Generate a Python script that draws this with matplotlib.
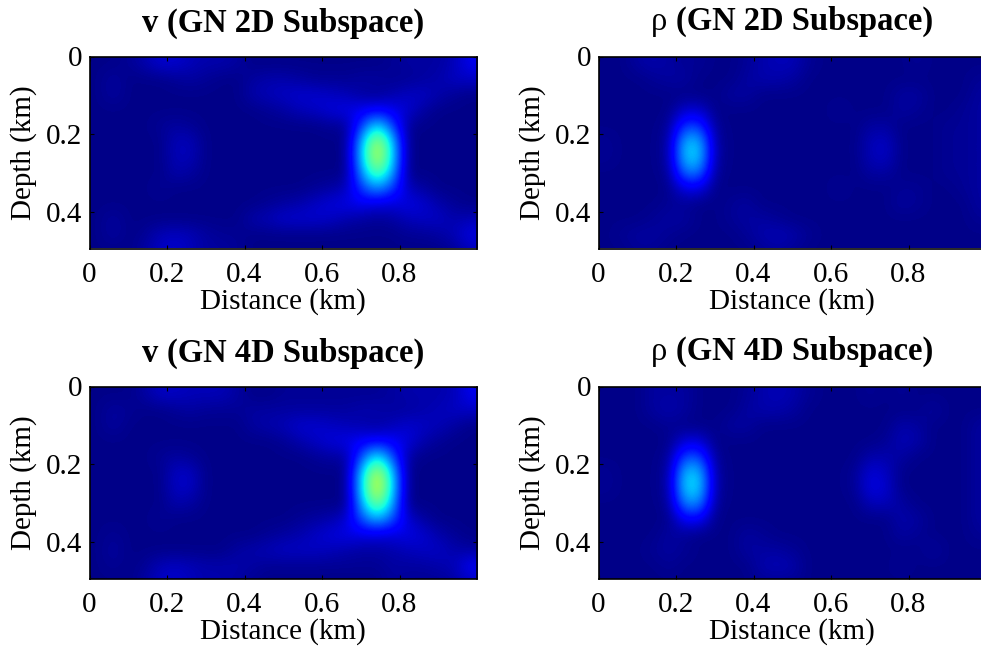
import numpy as np
import matplotlib
matplotlib.use("Agg")
import matplotlib.pyplot as plt

plt.rcParams['font.family'] = ['Liberation Serif', 'DejaVu Serif']

# Image values, in percent of the jet scale.
# Rows are depth .02 .06 ... .50 km, columns distance .02 .06 ... .98 km
v_2d = [
    [1, 1, 2, 4, 7, 7, 5, 4, 4, 3, 1, 1, 1, 1, 1, 1, 1, 1, 1, 2, 3, 3, 3, 5, 10],
    [1, 3, 1, 1, 1, 2, 3, 2, 1, 1, 3, 4, 4, 3, 2, 2, 2, 3, 3, 2, 2, 3, 4, 6, 6],
    [1, 3, 1, 1, 1, 1, 1, 1, 1, 1, 4, 5, 6, 7, 7, 6, 5, 3, 2, 4, 6, 6, 4, 2, 1],
    [1, 1, 1, 1, 1, 1, 1, 1, 1, 1, 1, 2, 3, 5, 6, 8, 9, 10, 12, 10, 7, 3, 1, 1, 1],
    [1, 1, 1, 1, 2, 3, 2, 1, 1, 1, 1, 1, 1, 1, 1, 2, 2, 18, 36, 19, 2, 1, 1, 1, 1],
    [1, 1, 1, 1, 1, 5, 5, 1, 1, 1, 1, 1, 1, 1, 1, 1, 1, 30, 58, 32, 1, 1, 1, 1, 1],
    [1, 1, 1, 1, 1, 5, 5, 1, 1, 1, 1, 1, 1, 1, 1, 1, 1, 32, 61, 34, 1, 1, 1, 1, 1],
    [1, 1, 1, 1, 1, 4, 3, 1, 1, 1, 1, 1, 1, 1, 1, 1, 1, 27, 48, 29, 1, 1, 1, 1, 1],
    [1, 1, 1, 1, 2, 1, 1, 1, 1, 1, 1, 1, 1, 1, 2, 3, 5, 18, 27, 18, 5, 3, 1, 1, 1],
    [1, 1, 1, 1, 1, 1, 1, 1, 1, 1, 1, 2, 3, 4, 6, 8, 9, 10, 8, 8, 9, 7, 4, 2, 1],
    [1, 3, 1, 1, 1, 1, 1, 1, 1, 1, 4, 5, 7, 7, 7, 6, 4, 3, 2, 3, 5, 6, 6, 4, 5],
    [1, 3, 1, 2, 5, 6, 5, 3, 2, 2, 1, 1, 1, 1, 1, 1, 1, 1, 1, 1, 2, 2, 3, 5, 9],
    [1, 1, 1, 3, 6, 7, 5, 3, 3, 2, 1, 1, 1, 1, 1, 1, 1, 1, 1, 1, 1, 1, 1, 2, 5],
]
rho_2d = [
    [1, 1, 3, 4, 3, 2, 2, 1, 1, 2, 4, 5, 5, 2, 1, 1, 1, 1, 1, 1, 2, 1, 1, 1, 1],
    [1, 1, 1, 2, 3, 3, 1, 1, 1, 3, 4, 4, 3, 1, 1, 1, 1, 1, 1, 1, 1, 1, 1, 1, 2],
    [1, 1, 1, 1, 1, 1, 1, 1, 3, 3, 1, 1, 1, 1, 1, 1, 1, 1, 1, 3, 3, 1, 1, 1, 3],
    [1, 1, 1, 1, 1, 7, 7, 1, 1, 1, 1, 1, 1, 1, 1, 2, 1, 1, 1, 3, 2, 1, 1, 2, 3],
    [1, 1, 1, 1, 2, 18, 18, 2, 1, 1, 1, 1, 1, 1, 1, 1, 1, 3, 3, 1, 1, 1, 2, 2, 3],
    [2, 1, 1, 1, 3, 31, 31, 3, 1, 1, 1, 1, 1, 1, 1, 1, 1, 5, 6, 1, 1, 1, 2, 2, 3],
    [2, 1, 1, 1, 3, 33, 33, 3, 1, 1, 1, 1, 1, 1, 1, 1, 1, 5, 6, 1, 1, 1, 2, 2, 3],
    [1, 1, 1, 1, 2, 24, 24, 2, 1, 1, 1, 1, 1, 1, 1, 1, 1, 3, 3, 1, 1, 1, 2, 2, 3],
    [1, 1, 1, 1, 1, 9, 9, 1, 1, 1, 1, 1, 1, 1, 1, 2, 1, 1, 1, 2, 2, 1, 1, 2, 3],
    [1, 1, 1, 1, 2, 2, 1, 1, 2, 3, 1, 1, 1, 1, 1, 1, 1, 1, 1, 3, 2, 1, 1, 1, 3],
    [1, 1, 1, 2, 3, 3, 1, 1, 2, 3, 3, 2, 1, 1, 1, 1, 1, 1, 1, 1, 1, 1, 1, 1, 2],
    [1, 2, 3, 3, 2, 1, 1, 1, 1, 2, 4, 5, 4, 2, 1, 1, 1, 1, 1, 1, 1, 1, 1, 1, 1],
    [1, 1, 2, 2, 1, 1, 1, 1, 1, 1, 2, 3, 2, 1, 1, 1, 1, 1, 1, 1, 1, 1, 1, 1, 1],
]
v_4d = [
    [1, 1, 1, 3, 6, 6, 5, 5, 5, 3, 1, 1, 2, 2, 2, 2, 2, 2, 2, 3, 4, 4, 4, 5, 10],
    [1, 3, 2, 1, 1, 2, 3, 2, 2, 2, 3, 3, 3, 3, 3, 3, 3, 4, 4, 3, 3, 4, 5, 6, 6],
    [1, 3, 1, 1, 1, 1, 1, 1, 1, 1, 3, 4, 5, 7, 7, 6, 5, 4, 3, 5, 7, 6, 5, 3, 1],
    [1, 1, 1, 1, 1, 1, 1, 1, 1, 1, 1, 1, 2, 4, 6, 8, 9, 11, 12, 11, 8, 4, 2, 1, 1],
    [1, 1, 1, 1, 2, 3, 2, 1, 1, 1, 1, 1, 1, 1, 2, 3, 3, 20, 38, 20, 3, 1, 1, 1, 1],
    [1, 1, 1, 1, 1, 6, 6, 1, 1, 1, 1, 1, 1, 1, 1, 1, 1, 32, 60, 32, 1, 1, 1, 1, 1],
    [1, 1, 1, 1, 1, 6, 6, 1, 1, 1, 1, 1, 1, 1, 1, 1, 1, 34, 64, 34, 1, 1, 1, 1, 1],
    [1, 1, 1, 1, 1, 4, 3, 1, 1, 1, 1, 1, 1, 1, 1, 1, 1, 29, 52, 29, 1, 1, 1, 1, 1],
    [1, 1, 1, 1, 2, 1, 1, 1, 1, 1, 1, 1, 1, 2, 3, 4, 7, 20, 30, 20, 7, 3, 1, 1, 1],
    [1, 2, 1, 1, 1, 1, 1, 1, 1, 1, 1, 2, 3, 4, 6, 8, 9, 9, 8, 8, 9, 7, 4, 2, 1],
    [1, 3, 1, 1, 1, 1, 1, 1, 1, 3, 4, 5, 6, 6, 6, 5, 4, 3, 3, 4, 5, 6, 6, 4, 3],
    [1, 2, 1, 2, 5, 6, 5, 4, 4, 4, 3, 2, 2, 2, 2, 2, 2, 2, 2, 3, 3, 3, 4, 5, 11],
    [1, 1, 1, 3, 6, 7, 5, 4, 4, 3, 2, 1, 1, 1, 1, 1, 1, 1, 1, 3, 2, 2, 2, 3, 6],
]
rho_4d = [
    [1, 1, 1, 3, 3, 3, 1, 1, 1, 2, 4, 5, 4, 2, 1, 1, 1, 2, 1, 2, 1, 1, 1, 1, 1],
    [1, 1, 1, 3, 4, 3, 1, 1, 1, 3, 4, 4, 3, 1, 1, 1, 1, 1, 1, 1, 1, 3, 1, 1, 1],
    [1, 1, 1, 1, 2, 1, 1, 1, 3, 3, 1, 1, 1, 1, 1, 1, 1, 1, 1, 4, 3, 1, 1, 1, 3],
    [1, 1, 1, 1, 1, 8, 8, 1, 1, 1, 1, 1, 1, 1, 1, 1, 1, 1, 2, 5, 4, 1, 1, 1, 3],
    [1, 1, 1, 1, 2, 20, 20, 2, 1, 1, 1, 1, 1, 1, 1, 1, 1, 4, 4, 3, 1, 1, 1, 1, 3],
    [2, 1, 1, 1, 3, 32, 32, 3, 1, 1, 1, 1, 1, 1, 1, 1, 2, 8, 6, 1, 1, 1, 1, 1, 3],
    [2, 1, 1, 1, 3, 34, 34, 3, 1, 1, 1, 1, 1, 1, 1, 1, 2, 9, 7, 1, 1, 1, 1, 1, 3],
    [1, 1, 1, 1, 2, 26, 26, 2, 1, 1, 1, 1, 1, 1, 1, 1, 1, 5, 5, 3, 1, 1, 1, 1, 3],
    [1, 1, 1, 1, 1, 11, 11, 1, 1, 1, 1, 1, 1, 1, 1, 1, 1, 1, 1, 4, 3, 1, 1, 1, 3],
    [1, 1, 1, 1, 3, 2, 1, 1, 1, 3, 2, 1, 1, 1, 1, 1, 1, 1, 1, 3, 2, 1, 1, 1, 2],
    [1, 1, 1, 2, 3, 2, 1, 1, 1, 3, 3, 3, 2, 1, 1, 1, 1, 1, 1, 1, 1, 3, 1, 1, 1],
    [1, 1, 1, 1, 2, 1, 1, 1, 1, 1, 4, 5, 4, 1, 1, 1, 1, 1, 1, 2, 1, 1, 1, 1, 1],
    [1, 1, 1, 1, 1, 1, 1, 1, 1, 1, 2, 2, 2, 1, 1, 1, 1, 1, 1, 1, 1, 1, 1, 1, 1],
]

panels = [v_2d, rho_2d, v_4d, rho_4d]
symbols = ['v', 'ρ', 'v', 'ρ']
subtitles = ['(GN 2D Subspace)', '(GN 2D Subspace)', '(GN 4D Subspace)', '(GN 4D Subspace)']
x_ticks = [0, 0.2, 0.4, 0.6, 0.8]
y_ticks = [0, 0.2, 0.4]
x_ticklabels = ['0', '0.2', '0.4', '0.6', '0.8']
y_ticklabels = ['0', '0.2', '0.4']

W, H = 981, 651
# left, top of each axes in pixels
corners = [(89.5, 56.5), (598.5, 56.5), (89.5, 386.5), (598.5, 386.5)]
ax_w, ax_h = 387.5, 192

fig = plt.figure(figsize=(W / 100, H / 100), dpi=100)

for i in range(4):
    left, top = corners[i]
    ax = fig.add_axes([left / W, 1 - (top + ax_h) / H, ax_w / W, ax_h / H])
    ax.imshow(np.array(panels[i]), cmap='jet', vmin=0, vmax=100, aspect='auto',
              interpolation='bicubic', extent=[0, 1, 0.52, 0])
    ax.set_xlim(0, 1)
    ax.set_ylim(0.494, 0)
    ax.set_xticks(x_ticks)
    ax.set_xticklabels(x_ticklabels)
    ax.set_yticks(y_ticks)
    ax.set_yticklabels(y_ticklabels)
    ax.tick_params(direction='in', top=True, right=True, length=3, width=0.8, labelsize=21)
    ax.tick_params(axis='x', pad=10)
    ax.tick_params(axis='y', pad=5)
    for s in ax.spines.values():
        s.set_linewidth(1.2)
    ax.set_xlabel('Distance (km)', fontsize=21)
    ax.xaxis.set_label_coords(0.5, -0.205)
    ax.set_ylabel('Depth (km)', fontsize=21)
    ax.yaxis.set_label_coords(-0.135, 0.5)

    # symbol is regular on the rho panels, the rest of the title bold
    base = top - 24.5 if symbols[i] == 'v' else top - 26.5
    t1 = fig.text(0, 1 - base / H, symbols[i], fontsize=23.5, ha='left', va='baseline',
                  fontweight='bold' if symbols[i] == 'v' else 'normal')
    t2 = fig.text(0, 1 - base / H, subtitles[i], fontsize=23.5, ha='left', va='baseline',
                  fontweight='bold')
    fig.canvas.draw()
    r = fig.canvas.get_renderer()
    w1 = t1.get_window_extent(r).width
    w2 = t2.get_window_extent(r).width
    x0 = left + ax_w / 2 - (w1 + 9 + w2) / 2
    t1.set_x(x0 / W)
    t2.set_x((x0 + w1 + 9) / W)

fig.savefig('out.png', dpi=100)
